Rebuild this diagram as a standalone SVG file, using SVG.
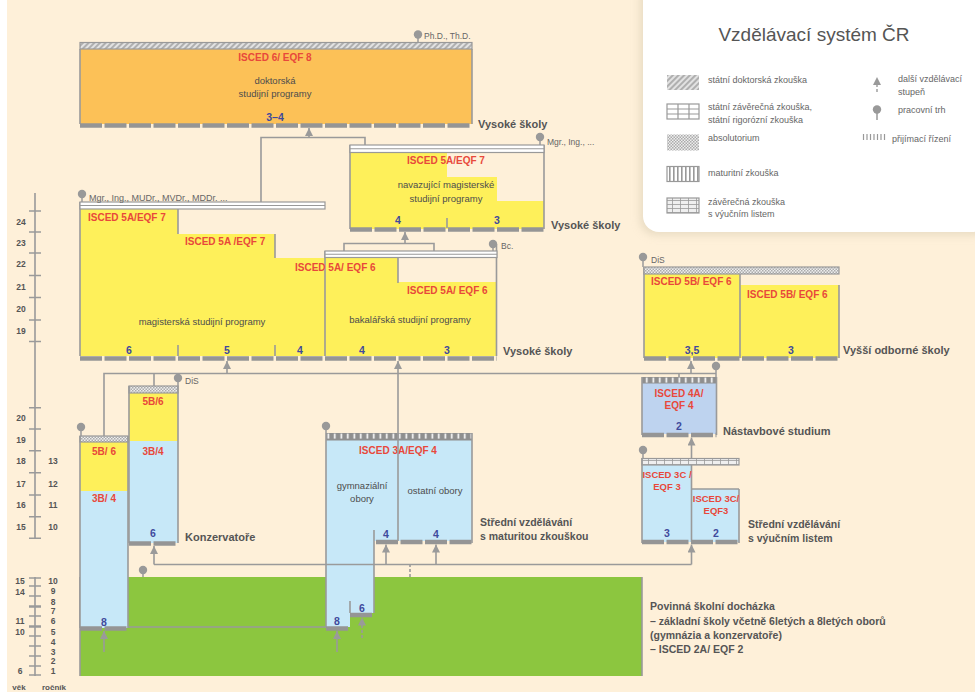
<svg xmlns="http://www.w3.org/2000/svg" width="975" height="693" viewBox="0 0 975 693">
<defs>
<style>
text{font-family:"Liberation Sans",Arial,sans-serif;}
.red{fill:#E8483B;font-weight:bold;font-size:10px;}
.num{fill:#3F4A9C;font-weight:bold;font-size:10.5px;text-anchor:middle;}
.body{fill:#4d4d4d;font-size:9.5px;}
.lbl{fill:#555;font-weight:bold;font-size:11px;}
.deg{fill:#666;font-size:8.5px;}
.ax{fill:#555;font-size:8.5px;font-weight:bold;text-anchor:middle;}
.leg{fill:#666;font-size:9px;}
.c{text-anchor:middle;}
.bd{stroke:#9a9a9a;stroke-width:1.6;fill:none;}
.ln{stroke:#9a9a9a;stroke-width:1.6;fill:none;}
.bar{stroke:#959595;stroke-width:4.5;stroke-dasharray:22 2.5;fill:none;}
.yel{fill:#FEF05A;}
.blu{fill:#C7E8F8;}
.tb{stroke:#999;stroke-width:1.2;}
.pin{fill:#999;}
</style>
<pattern id="pHatch" width="4" height="4" patternUnits="userSpaceOnUse" patternTransform="rotate(45)">
<rect width="4" height="4" fill="#e2e2e2"/><line x1="1" y1="0" x2="1" y2="4" stroke="#9a9a9a" stroke-width="1.4"/>
</pattern>
<pattern id="pAbs" width="3" height="3" patternUnits="userSpaceOnUse">
<rect width="3" height="3" fill="#eeeeee"/><rect width="1.5" height="1.5" fill="#ababab"/><rect x="1.5" y="1.5" width="1.5" height="1.5" fill="#ababab"/>
</pattern>
<pattern id="pMat" width="6.5" height="8" patternUnits="userSpaceOnUse">
<rect width="6.5" height="8" fill="#8f8f8f"/><rect x="2.5" y="1.6" width="1.6" height="5" fill="#ffffff"/>
</pattern>
<pattern id="pStripe" width="4" height="16" patternUnits="userSpaceOnUse">
<rect width="4" height="16" fill="#ffffff"/><rect x="1" width="1.6" height="16" fill="#999"/>
</pattern>
<pattern id="pGrid" width="8" height="4" patternUnits="userSpaceOnUse">
<rect width="8" height="4" fill="#efefef"/><path d="M0 0.4H8M0.4 0V4" stroke="#9a9a9a" stroke-width="0.9"/>
</pattern>
<marker id="arr" markerUnits="userSpaceOnUse" markerWidth="8" markerHeight="9" refX="8" refY="4" orient="auto">
<path d="M0 0L8 4L0 8z" fill="#9a9a9a"/>
</marker>
<filter id="sh" x="-10%" y="-10%" width="130%" height="130%"><feGaussianBlur stdDeviation="4"/></filter>
</defs>

<rect width="975" height="693" fill="#ffffff"/>
<rect x="7" y="0" width="968" height="692" fill="#FEF0D9"/>

<!-- legend -->
<g id="legend">
<rect x="640" y="-20" width="350" height="255" rx="16" fill="#D9CDB4" opacity="0.6" filter="url(#sh)"/>
<rect x="643" y="-20" width="345" height="252" rx="16" fill="#ffffff"/>
<text x="814" y="41" class="c" style="font-size:19px;fill:#555">Vzdělávací systém ČR</text>
<rect x="667" y="75" width="32" height="15" fill="url(#pHatch)"/>
<text x="708" y="83" class="leg">státní doktorská zkouška</text>
<rect x="667" y="104" width="32" height="15" fill="#fff" class="tb"/>
<path d="M667 109H699M667 114H699M678 104V119M689 104V119" class="tb"/>
<text x="708" y="110" class="leg">státní závěrečná zkouška,</text>
<text x="708" y="123" class="leg">státní rigorózní zkouška</text>
<rect x="667" y="134.5" width="32" height="16" fill="url(#pAbs)"/>
<text x="708" y="141" class="leg">absolutorium</text>
<rect x="667" y="166.5" width="32" height="15" fill="url(#pStripe)" class="tb"/>
<text x="708" y="176" class="leg">maturitní zkouška</text>
<rect x="667" y="198" width="32" height="15" fill="url(#pGrid)" class="tb"/>
<text x="708" y="205" class="leg">závěrečná zkouška</text>
<text x="708" y="217" class="leg">s výučním listem</text>
<line x1="877" y1="92" x2="877" y2="77" stroke="#9a9a9a" stroke-width="1.4" stroke-dasharray="3 2" marker-end="url(#arr)"/>
<text x="898" y="82" class="leg">další vzdělávací</text>
<text x="898" y="95" class="leg">stupeň</text>
<line x1="877" y1="109.5" x2="877" y2="120" stroke="#9a9a9a" stroke-width="1.5"/>
<circle cx="877" cy="109.5" r="4.2" class="pin"/>
<text x="898" y="113" class="leg">pracovní trh</text>
<path d="M863.5 134V140M867 134V140M870.5 134V140M874 134V140M877.5 134V140M881 134V140M884.5 134V140" stroke="#999" stroke-width="1.2"/>
<text x="892" y="142" class="leg">přijímací řízení</text>
</g>

<!-- axis -->
<g id="axis">
<path d="M35 193V538M29 211H41M29 232H41M29 253H41M29 275.5H41M29 297.5H41M29 320H41M29 341.5H41M29 407.7H41M29 429H41M29 450.7H41M29 472.7H41M29 495H41M29 516.7H41M29 538.3H41" class="ln"/>
<text x="21" y="225" class="ax">24</text>
<text x="21" y="246" class="ax">23</text>
<text x="21" y="267" class="ax">22</text>
<text x="21" y="290" class="ax">21</text>
<text x="21" y="312" class="ax">20</text>
<text x="21" y="334" class="ax">19</text>
<text x="21" y="421" class="ax">20</text>
<text x="21" y="443" class="ax">19</text>
<text x="21" y="464" class="ax">18</text>
<text x="21" y="487" class="ax">17</text>
<text x="21" y="508" class="ax">16</text>
<text x="21" y="530" class="ax">15</text>
<text x="53" y="464" class="ax">13</text>
<text x="53" y="487" class="ax">12</text>
<text x="53" y="508" class="ax">11</text>
<text x="53" y="530" class="ax">10</text>
<path d="M35 577V676M29 578H41M29 586H41M29 596H41M29 616H41M29 636H41M29 646H41M29 656H41M29 666H41M29 675H41" class="ln" stroke-width="1.3"/>
<path d="M29 606.5H41M29 626.5H41" stroke="#9a9a9a" stroke-width="2.6"/>
<text x="20" y="583.5" class="ax">15</text>
<text x="20" y="595" class="ax">14</text>
<text x="20" y="624" class="ax">11</text>
<text x="20" y="635" class="ax">10</text>
<text x="20" y="674" class="ax">6</text>
<text x="53" y="583.5" class="ax">10</text>
<text x="53" y="594" class="ax">9</text>
<text x="53" y="605" class="ax">8</text>
<text x="53" y="614" class="ax">7</text>
<text x="53" y="624" class="ax">6</text>
<text x="53" y="635" class="ax">5</text>
<text x="53" y="645" class="ax">4</text>
<text x="53" y="655" class="ax">3</text>
<text x="53" y="664" class="ax">2</text>
<text x="53" y="674" class="ax">1</text>
<text x="19" y="690" class="ax" style="font-size:8px">věk</text>
<text x="54" y="690" class="ax" style="font-size:8px">ročník</text>
</g>

<!-- compulsory -->
<g id="povinna">
<rect x="80" y="577" width="562" height="99" fill="#8CC63F"/>
<path d="M80 577V676M642 577V676" class="bd"/>
<line x1="143" y1="570" x2="143" y2="577" stroke="#9a9a9a" stroke-width="1.5"/>
<circle cx="143" cy="570" r="4.2" class="pin"/>
<text x="650" y="610" class="lbl" style="font-size:10.5px">Povinná školní docházka</text>
<text x="650" y="625" class="lbl" style="font-size:10.5px">– základní školy včetně 6letých a 8letých oborů</text>
<text x="650" y="639" class="lbl" style="font-size:10.5px">(gymnázia a konzervatoře)</text>
<text x="650" y="653" class="lbl" style="font-size:10.5px"> – ISCED 2A/ EQF 2</text>
</g>

<!-- doctoral -->
<g id="doktorske">
<rect x="80" y="49" width="392" height="75" fill="#FCC157"/>
<path d="M80 49V124M472 49V124" class="bd"/>
<rect x="80" y="42.5" width="392" height="6.5" fill="url(#pHatch)" class="tb"/>
<line x1="80" y1="125.5" x2="472" y2="125.5" class="bar"/>
<line x1="418" y1="34.5" x2="418" y2="42.5" stroke="#9a9a9a" stroke-width="1.5"/>
<circle cx="418" cy="34.5" r="4.2" class="pin"/>
<text x="424" y="39" class="deg">Ph.D., Th.D.</text>
<text x="275" y="61" class="red c">ISCED 6/ EQF 8</text>
<text x="275" y="84" class="body c">doktorská</text>
<text x="275" y="97" class="body c">studijní programy</text>
<text x="275" y="121" class="num">3–4</text>
<text x="478" y="128" class="lbl">Vysoké školy</text>
</g>

<!-- navazující magisterské -->
<g id="navazujici">
<polygon points="350,153 447,153 447,177 497,177 497,201 544,201 544,229 350,229" class="yel"/>
<path d="M350 145V229M544 145V229M447 218V228" class="bd"/>
<rect x="350" y="145" width="194" height="7.5" fill="#fff" class="tb"/>
<line x1="350" y1="148.75" x2="544" y2="148.75" class="tb"/>
<line x1="350" y1="229.5" x2="544" y2="229.5" class="bar"/>
<line x1="540" y1="137" x2="540" y2="145" stroke="#9a9a9a" stroke-width="1.5"/>
<circle cx="540" cy="137" r="4.2" class="pin"/>
<text x="547" y="144.5" class="deg">Mgr., Ing., ...</text>
<text x="446" y="164" class="red c">ISCED 5A/EQF 7</text>
<text x="446" y="188" class="body c">navazující magisterské</text>
<text x="446" y="202" class="body c">studijní programy</text>
<text x="398" y="224" class="num">4</text>
<text x="497" y="224" class="num">3</text>
<text x="551" y="229" class="lbl">Vysoké školy</text>
</g>

<!-- magisterské -->
<g id="magisterske">
<polygon points="80,209 178,209 178,234 275,234 275,258 325,258 325,356 80,356" class="yel"/>
<path d="M80 202V356M178 209V234M275 234V258M178 345V356M275 345V356" class="bd"/>
<rect x="80" y="202" width="245" height="7" fill="#fff" class="tb"/>
<line x1="80" y1="205.5" x2="325" y2="205.5" class="tb"/>
<line x1="82" y1="194" x2="82" y2="202" stroke="#9a9a9a" stroke-width="1.5"/>
<circle cx="82" cy="194" r="4.2" class="pin"/>
<text x="89" y="201" class="deg" style="font-size:9px">Mgr., Ing., MUDr., MVDr., MDDr. ...</text>
<text x="88" y="221" class="red">ISCED 5A/EQF 7</text>
<text x="185" y="245" class="red">ISCED 5A /EQF 7</text>
<text x="202" y="325" class="body c">magisterská studijní programy</text>
<text x="129" y="354" class="num">6</text>
<text x="227" y="354" class="num">5</text>
<text x="300" y="354" class="num">4</text>
</g>

<!-- bakalářské -->
<g id="bakalarske">
<polygon points="325,257 398,257 398,282 497,282 497,356 325,356" class="yel"/>
<path d="M325 251V356M398 257V283M496.5 244V356" class="bd"/>
<rect x="325" y="251" width="172" height="6.5" fill="#fff" class="tb"/>
<line x1="325" y1="254.25" x2="497" y2="254.25" class="tb"/>
<line x1="493" y1="244" x2="493" y2="251" stroke="#9a9a9a" stroke-width="1.5"/>
<circle cx="493" cy="244" r="4.2" class="pin"/>
<text x="501" y="249" class="deg">Bc.</text>
<text x="295" y="271" class="red">ISCED 5A/ EQF 6</text>
<text x="407" y="294" class="red">ISCED 5A/ EQF 6</text>
<text x="410" y="323" class="body c">bakalářská studijní programy</text>
<text x="362" y="354" class="num">4</text>
<text x="447" y="354" class="num">3</text>
<text x="503" y="355" class="lbl">Vysoké školy</text>
<line x1="80" y1="358.5" x2="497" y2="358.5" class="bar"/>
</g>

<!-- VOŠ -->
<g id="vos">
<rect x="644" y="274" width="96" height="84" class="yel"/>
<rect x="740" y="285" width="99" height="73" class="yel"/>
<path d="M644 267V358M740 274V358M839 285V358" class="bd"/>
<rect x="644" y="267" width="195" height="7" fill="url(#pAbs)" class="tb"/>
<line x1="644" y1="358.5" x2="839" y2="358.5" class="bar"/>
<line x1="643" y1="257" x2="643" y2="267" stroke="#9a9a9a" stroke-width="1.5"/>
<circle cx="643" cy="257" r="4.2" class="pin"/>
<text x="651" y="263" class="deg">DiS</text>
<text x="651" y="285" class="red">ISCED 5B/ EQF 6</text>
<text x="747" y="298" class="red">ISCED 5B/ EQF 6</text>
<text x="692" y="354" class="num">3,5</text>
<text x="791" y="354" class="num">3</text>
<text x="843" y="354" class="lbl">Vyšší odborné školy</text>
</g>

<!-- konzervatoře -->
<g id="konzervator1">
<rect x="80" y="442" width="48" height="186" class="blu"/>
<rect x="80" y="442" width="48" height="49" class="yel"/>
<rect x="80" y="436" width="48" height="6" fill="url(#pAbs)" class="tb"/>
<path d="M80 436V628M128 436V628" class="bd"/>
<line x1="80" y1="628.5" x2="128" y2="628.5" class="bar"/>
<line x1="81" y1="427" x2="81" y2="436" stroke="#9a9a9a" stroke-width="1.5"/>
<circle cx="81" cy="427" r="4.2" class="pin"/>
<text x="104" y="455" class="red c">5B/ 6</text>
<text x="104" y="502" class="red c">3B/ 4</text>
<text x="104" y="626" class="num">8</text>
</g>
<g id="konzervator2">
<rect x="129" y="393" width="49" height="150" class="blu"/>
<rect x="129" y="393" width="49" height="48" class="yel"/>
<rect x="129" y="386" width="49" height="7" fill="url(#pAbs)" class="tb"/>
<path d="M129 386V543M178 386V543" class="bd"/>
<line x1="129" y1="543.5" x2="178" y2="543.5" class="bar"/>
<line x1="178" y1="378" x2="178" y2="386" stroke="#9a9a9a" stroke-width="1.5"/>
<circle cx="178" cy="378" r="4.2" class="pin"/>
<text x="185" y="384" class="deg">DiS</text>
<text x="153" y="405" class="red c">5B/6</text>
<text x="153" y="455" class="red c">3B/4</text>
<text x="153" y="537" class="num">6</text>
<text x="185" y="541" class="lbl">Konzervatoře</text>
</g>

<!-- střední s maturitou -->
<g id="stredni-maturita">
<polygon points="326,440 472,440 472,541 374,541 374,613 350,613 350,627 326,627" class="blu"/>
<rect x="326" y="433" width="146" height="7.5" fill="url(#pMat)"/>
<path d="M326 433V628M472 433V543M374 530V613M350 601V613" class="bd"/>
<line x1="376" y1="542" x2="472" y2="542" class="bar"/>
<line x1="326" y1="628.5" x2="350" y2="628.5" class="bar"/>
<line x1="350" y1="615" x2="374" y2="615" class="bar"/>
<line x1="326" y1="426" x2="326" y2="433" stroke="#9a9a9a" stroke-width="1.5"/>
<circle cx="326" cy="426" r="4.2" class="pin"/>
<text x="398" y="454" class="red c">ISCED 3A/EQF 4</text>
<text x="362" y="489" class="body c">gymnaziální</text>
<text x="362" y="502" class="body c">obory</text>
<text x="435" y="494" class="body c">ostatní obory</text>
<text x="386" y="538" class="num">4</text>
<text x="436" y="538" class="num">4</text>
<text x="337" y="625" class="num">8</text>
<text x="362" y="612" class="num">6</text>
<text x="480" y="526" class="lbl" style="font-size:10.5px">Střední vzdělávání</text>
<text x="480" y="540" class="lbl" style="font-size:10.5px">s maturitou zkouškou</text>
</g>

<!-- nástavbové -->
<g id="nastavbove">
<rect x="642" y="383" width="74.5" height="51" fill="#BED3EF"/>
<rect x="642" y="377" width="74.5" height="6.5" fill="url(#pMat)"/>
<path d="M642 377V435M716.5 377V435" class="bd"/>
<line x1="642" y1="435" x2="716.5" y2="435" class="bar"/>
<line x1="716" y1="366" x2="716" y2="377" stroke="#9a9a9a" stroke-width="1.5"/>
<circle cx="716" cy="366" r="4.2" class="pin"/>
<text x="679" y="397" class="red c">ISCED 4A/</text>
<text x="679" y="409" class="red c">EQF 4</text>
<text x="679" y="430" class="num">2</text>
<text x="723" y="435" class="lbl">Nástavbové studium</text>
</g>

<!-- střední s výučním listem -->
<g id="stredni-vyucni">
<rect x="642" y="465" width="49.5" height="77" class="blu"/>
<rect x="691.5" y="489" width="47.5" height="53" class="blu"/>
<rect x="642" y="458.5" width="97" height="6.5" fill="url(#pGrid)" class="tb"/>
<path d="M642 458V543M739 489V543M691.5 489H739M691.5 465V542" class="bd"/>
<line x1="642" y1="542" x2="739" y2="542" class="bar"/>
<line x1="643" y1="450" x2="643" y2="458" stroke="#9a9a9a" stroke-width="1.5"/>
<circle cx="643" cy="450" r="4.2" class="pin"/>
<text x="667" y="478" class="red c" style="font-size:9.5px">ISCED 3C /</text>
<text x="667" y="490" class="red c" style="font-size:9.5px">EQF 3</text>
<text x="716" y="502" class="red c" style="font-size:9.5px">ISCED 3C/</text>
<text x="716" y="514" class="red c" style="font-size:9.5px">EQF3</text>
<text x="667" y="537" class="num">3</text>
<text x="716" y="537" class="num">2</text>
<text x="748" y="528" class="lbl" style="font-size:10.5px">Střední vzdělávání</text>
<text x="748" y="542" class="lbl" style="font-size:10.5px">s výučním listem</text>
</g>

<!-- connectors -->
<g id="connectors" fill="none" stroke="#9a9a9a" stroke-width="1.6">
<path d="M261 202V137.5H365V145"/>
<line x1="309" y1="137.5" x2="309" y2="128" marker-end="url(#arr)"/>
<path d="M344 251V243.5H434V251"/>
<line x1="405" y1="243.5" x2="405" y2="232" marker-end="url(#arr)"/>
<path d="M104 436V373.5H716"/>
<path d="M154 386V373.5"/>
<path d="M679 377V373.5"/>
<line x1="227" y1="373.5" x2="227" y2="361" marker-end="url(#arr)"/>
<line x1="691" y1="373.5" x2="691" y2="361" marker-end="url(#arr)"/>
<line x1="398" y1="541" x2="398" y2="361" marker-end="url(#arr)"/>
<path d="M154 564.5H691.5"/>
<line x1="154" y1="564.5" x2="154" y2="546" marker-end="url(#arr)"/>
<line x1="386" y1="564.5" x2="386" y2="544.5" marker-end="url(#arr)"/>
<line x1="436" y1="564.5" x2="436" y2="544.5" marker-end="url(#arr)"/>
<line x1="691.5" y1="564.5" x2="691.5" y2="544.5" marker-end="url(#arr)"/>
<line x1="691.5" y1="458" x2="691.5" y2="437.5" marker-end="url(#arr)"/>
<line x1="410" y1="577" x2="410" y2="565" stroke-dasharray="3 2"/>
<line x1="104" y1="652" x2="104" y2="631" marker-end="url(#arr)"/>
<line x1="337" y1="652" x2="337" y2="631" marker-end="url(#arr)"/>
<line x1="362" y1="638" x2="362" y2="617.5" stroke-dasharray="3 2" marker-end="url(#arr)"/>
<line x1="128" y1="627" x2="326" y2="627"/>
</g>
</svg>
